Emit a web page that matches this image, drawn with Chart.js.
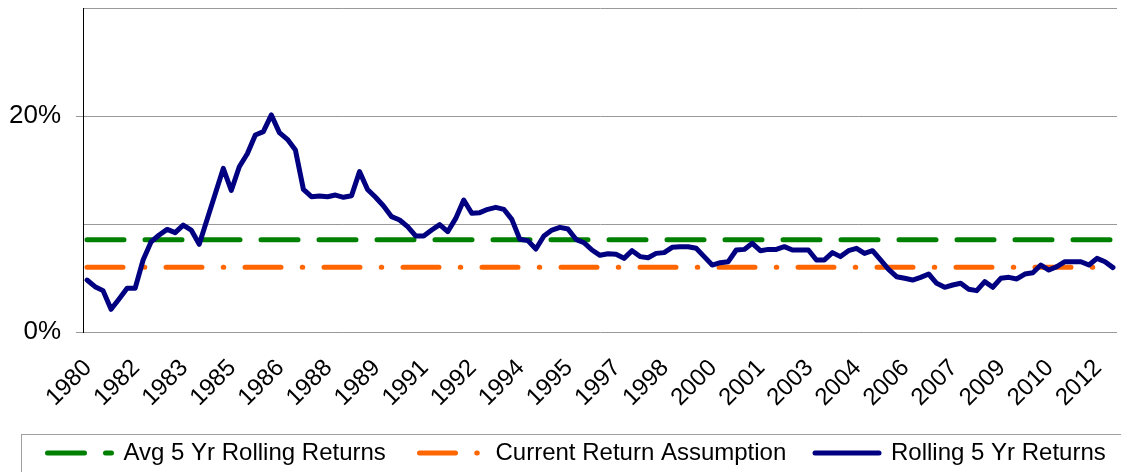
<!DOCTYPE html>
<html>
<head>
<meta charset="utf-8">
<script src="https://cdn.jsdelivr.net/npm/chart.js@4"></script>
<style>
html,body{margin:0;padding:0;background:#fff;}
canvas{display:block;}
</style>
</head>
<body>
<canvas id="c" width="1121" height="472"></canvas>
<script>
// ---------- DATA ----------
const categories = [
  '1980Q4',
  '1981Q1','1981Q2','1981Q3','1981Q4','1982Q1','1982Q2','1982Q3','1982Q4',
  '1983Q1','1983Q2','1983Q3','1983Q4','1984Q1','1984Q2','1984Q3','1984Q4',
  '1985Q1','1985Q2','1985Q3','1985Q4','1986Q1','1986Q2','1986Q3','1986Q4',
  '1987Q1','1987Q2','1987Q3','1987Q4','1988Q1','1988Q2','1988Q3','1988Q4',
  '1989Q1','1989Q2','1989Q3','1989Q4','1990Q1','1990Q2','1990Q3','1990Q4',
  '1991Q1','1991Q2','1991Q3','1991Q4','1992Q1','1992Q2','1992Q3','1992Q4',
  '1993Q1','1993Q2','1993Q3','1993Q4','1994Q1','1994Q2','1994Q3','1994Q4',
  '1995Q1','1995Q2','1995Q3','1995Q4','1996Q1','1996Q2','1996Q3','1996Q4',
  '1997Q1','1997Q2','1997Q3','1997Q4','1998Q1','1998Q2','1998Q3','1998Q4',
  '1999Q1','1999Q2','1999Q3','1999Q4','2000Q1','2000Q2','2000Q3','2000Q4',
  '2001Q1','2001Q2','2001Q3','2001Q4','2002Q1','2002Q2','2002Q3','2002Q4',
  '2003Q1','2003Q2','2003Q3','2003Q4','2004Q1','2004Q2','2004Q3','2004Q4',
  '2005Q1','2005Q2','2005Q3','2005Q4','2006Q1','2006Q2','2006Q3','2006Q4',
  '2007Q1','2007Q2','2007Q3','2007Q4','2008Q1','2008Q2','2008Q3','2008Q4',
  '2009Q1','2009Q2','2009Q3','2009Q4','2010Q1','2010Q2','2010Q3','2010Q4',
  '2011Q1','2011Q2','2011Q3','2011Q4','2012Q1','2012Q2','2012Q3','2012Q4'
];
const xTickLabels = ['1980','1982','1983','1985','1986','1988','1989','1991','1992','1994','1995',
  '1997','1998','2000','2001','2003','2004','2006','2007','2009','2010','2012'];
const yTickLabels = ['0%', '', '20%', ''];
const rollingReturns = [
  4.81,
  4.20, 3.83, 2.10, 3.05, 4.04, 4.04, 6.67, 8.36,
  8.98, 9.50, 9.20, 9.90, 9.44, 8.12, 10.46, 12.80,
  15.15, 13.10, 15.30, 16.50, 18.24, 18.55, 20.10, 18.46,
  17.84, 16.85, 13.20, 12.53, 12.60, 12.53, 12.68, 12.47,
  12.62, 14.85, 13.20, 12.47, 11.67, 10.68, 10.37, 9.75,
  8.89, 8.89, 9.44, 9.94, 9.29, 10.52, 12.22, 10.99,
  11.05, 11.36, 11.54, 11.36, 10.43, 8.58, 8.46, 7.68,
  8.89, 9.44, 9.69, 9.54, 8.58, 8.27, 7.59, 7.10,
  7.25, 7.19, 6.82, 7.53, 6.98, 6.88, 7.28, 7.35,
  7.84, 7.90, 7.90, 7.75, 6.98, 6.20, 6.42, 6.51,
  7.59, 7.65, 8.21, 7.53, 7.65, 7.65, 7.90, 7.59,
  7.59, 7.59, 6.67, 6.67, 7.35, 6.98, 7.53, 7.75,
  7.28, 7.53, 6.67, 5.80, 5.12, 4.97, 4.81, 5.06,
  5.37, 4.51, 4.14, 4.35, 4.51, 3.95, 3.83, 4.66,
  4.14, 4.97, 5.06, 4.91, 5.37, 5.49, 6.20, 5.74,
  6.05, 6.51, 6.51, 6.51, 6.20, 6.82, 6.51, 5.96
];
const avgRollingReturn = 8.55;
const currentAssumption = 6.0;
const seriesNames = ['Avg 5 Yr Rolling Returns', 'Current Return Assumption', 'Rolling 5 Yr Returns'];
const seriesColors = ['#008000', '#FF6600', '#000080'];

// ---------- CHART ----------
const FONT = "Arial, 'Liberation Sans', sans-serif";
const firstCat = categories[0];
const lastCat = categories[categories.length - 1];

const boxedLegend = {
  id: 'boxedLegend',
  afterDraw(chart, args, opts) {
    const ctx = chart.ctx;
    ctx.save();
    ctx.strokeStyle = opts.borderColor;
    ctx.lineWidth = 1;
    ctx.strokeRect(opts.boxX, opts.boxY, 2000, 300);
    ctx.font = opts.fontSize + 'px ' + FONT;
    ctx.textBaseline = 'middle';
    ctx.textAlign = 'left';
    ctx.fillStyle = '#000';
    chart.data.datasets.forEach((ds, i) => {
      const x0 = opts.itemX[i];
      ctx.save();
      ctx.strokeStyle = ds.borderColor;
      ctx.lineWidth = ds.borderWidth;
      ctx.lineCap = 'round';
      ctx.setLineDash(ds.borderDash || []);
      ctx.beginPath();
      ctx.moveTo(x0, opts.y);
      ctx.lineTo(x0 + opts.lineLen, opts.y);
      ctx.stroke();
      ctx.restore();
      ctx.fillText(ds.label, x0 + opts.textGap, opts.y);
    });
    ctx.restore();
  }
};

new Chart(document.getElementById('c'), {
  type: 'line',
  data: {
    labels: categories,
    datasets: [
      {
        label: seriesNames[0],
        data: [{x: firstCat, y: avgRollingReturn}, {x: lastCat, y: avgRollingReturn}],
        borderColor: seriesColors[0],
        borderWidth: 5,
        borderDash: [37, 21],
        borderCapStyle: 'round',
        pointRadius: 0,
        order: 1
      },
      {
        label: seriesNames[1],
        data: [{x: firstCat, y: currentAssumption}, {x: lastCat, y: currentAssumption}],
        borderColor: seriesColors[1],
        borderWidth: 5,
        borderDash: [36, 21.25, 0.5, 21.25],
        borderCapStyle: 'round',
        pointRadius: 0,
        order: 2
      },
      {
        label: seriesNames[2],
        data: rollingReturns,
        borderColor: seriesColors[2],
        borderWidth: 5,
        borderCapStyle: 'round',
        borderJoinStyle: 'round',
        pointRadius: 0,
        tension: 0,
        order: 0
      }
    ]
  },
  options: {
    responsive: false,
    animation: false,
    layout: { padding: { top: 8, right: 4, bottom: 40, left: 0 } },
    plugins: {
      legend: { display: false },
      tooltip: { enabled: false },
      boxedLegend: {
        borderColor: '#a0a0a0',
        boxX: 21.5, boxY: 434.5,
        itemX: [47.5, 419.5, 815],
        y: 453, lineLen: 64, textGap: 76, fontSize: 24
      }
    },
    scales: {
      x: {
        type: 'category',
        offset: true,
        grid: { display: false, drawTicks: false },
        border: { display: false },
        ticks: {
          autoSkip: false, minRotation: 45, maxRotation: 45,
          padding: 22, labelOffset: 1,
          color: '#000', font: { family: FONT, size: 24 },
          callback: (v, i) => (i % 6 === 0 ? xTickLabels[i / 6] : '')
        },
        afterFit: s => { s.height = 100; s.paddingLeft = 0; s.paddingRight = 0; }
      },
      y: {
        min: 0, max: 30,
        ticks: {
          stepSize: 10, padding: 15,
          color: '#000', font: { family: FONT, size: 26 },
          callback: (v, i) => yTickLabels[i]
        },
        grid: {
          color: '#999999', lineWidth: 1, tickLength: 7,
          tickColor: c => (c.tick && c.tick.value % 20 === 0) ? '#999999' : 'rgba(0,0,0,0)'
        },
        border: { display: true, color: '#000', width: 1 },
        afterFit: s => { s.width = 83; s.paddingTop = 0; s.paddingBottom = 0; }
      }
    }
  },
  plugins: [boxedLegend]
});
</script>
</body>
</html>
